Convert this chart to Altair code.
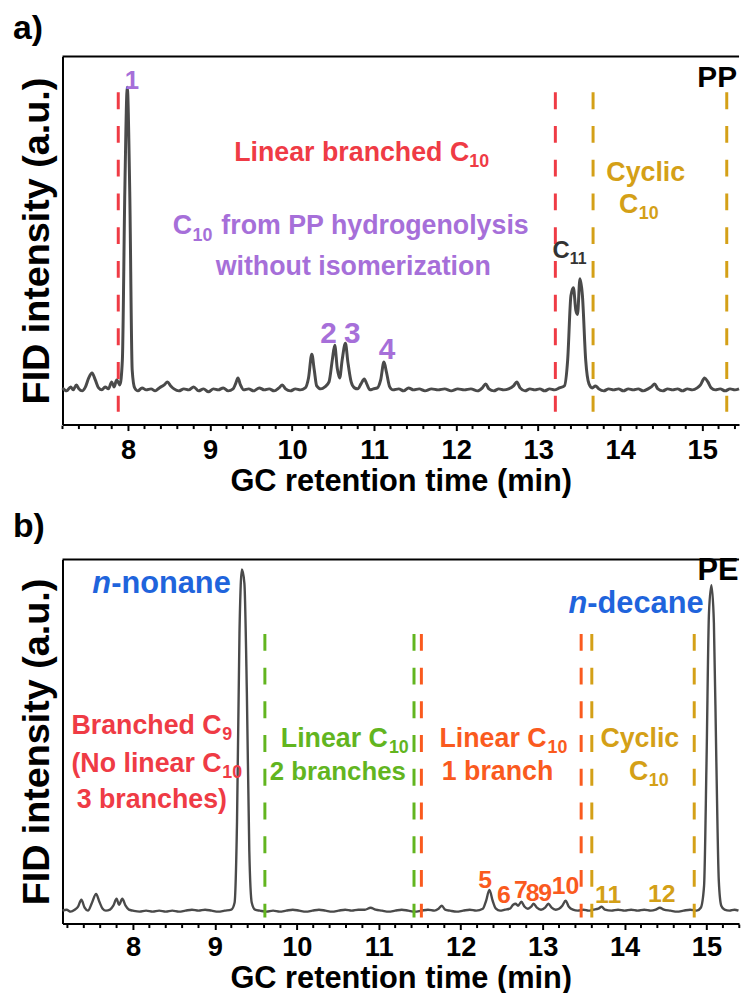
import altair as alt
import pandas as pd

FONT = "Liberation Sans, Arial, sans-serif"

# ---------------- data: panel a (PP) ----------------
a_time = [7.20, 7.25, 7.30, 7.33, 7.37, 7.40, 7.44, 7.48, 7.52, 7.56, 7.60, 7.64, 7.68, 7.72, 7.76, 7.80,
          7.83, 7.86, 7.90, 7.93, 7.96, 7.99, 8.02, 8.05, 8.08, 8.12, 8.17, 8.22, 8.28, 8.33, 8.38, 8.44,
          8.48, 8.52, 8.56, 8.62, 8.68, 8.74, 8.80, 8.86, 8.92, 8.98, 9.04, 9.10, 9.16, 9.22, 9.28, 9.31,
          9.34, 9.37, 9.41, 9.47, 9.53, 9.60, 9.66, 9.72, 9.78, 9.84, 9.88, 9.92, 9.98, 10.04, 10.10, 10.16,
          10.20, 10.24, 10.27, 10.30, 10.35, 10.40, 10.45, 10.49, 10.52, 10.55, 10.58, 10.61, 10.65, 10.68,
          10.72, 10.76, 10.80, 10.84, 10.88, 10.91, 10.95, 10.99, 11.04, 11.08, 11.12, 11.15, 11.19, 11.23,
          11.30, 11.36, 11.42, 11.48, 11.55, 11.62, 11.70, 11.78, 11.86, 11.94, 12.02, 12.10, 12.18, 12.26,
          12.32, 12.36, 12.40, 12.46, 12.52, 12.58, 12.64, 12.70, 12.74, 12.78, 12.84, 12.90, 12.96, 13.02,
          13.08, 13.14, 13.20, 13.26, 13.32, 13.36, 13.40, 13.43, 13.46, 13.48, 13.51, 13.54, 13.58, 13.62,
          13.66, 13.70, 13.74, 13.80, 13.86, 13.92, 13.98, 14.04, 14.10, 14.16, 14.22, 14.28, 14.34, 14.38,
          14.42, 14.46, 14.52, 14.58, 14.64, 14.70, 14.76, 14.82, 14.88, 14.94, 14.98, 15.03, 15.07, 15.11,
          15.16, 15.22, 15.28, 15.34, 15.40, 15.45]
a_signal = [2, -1, 3, 0, 5, 1, -1, 3, 12, 17, 10, 2, 0, 3, 1, 8,
            3, 10, 5, 30, 200, 305, 200, 20, 2, -1, 2, 0, 1, -1, 2, 5,
            8, 4, 1, -1, 1, 0, 3, -1, 1, -2, 1, 0, 2, -1, 1, 6,
            12, 5, 0, 1, -1, 2, 0, 1, -1, 2, 5, 1, -1, 1, 0, 2,
            12, 36, 20, 4, 1, 3, 8, 30, 45, 22, 12, 30, 47, 28,
            8, 2, 1, 6, 11, 6, 0, 1, 2, 10, 28, 18, 3, 0,
            1, -1, 2, 0, 1, -1, 1, 0, 1, -1, 1, 0, 1, -1,
            2, 6, 1, -1, 1, 0, 1, 4, 8, 2, -1, 1, 0, 1,
            -1, 1, 0, 2, 4, 30, 95, 103, 80, 76, 112, 95, 30, 6,
            2, 4, 1, -1, 1, 0, 1, -1, 1, 0, 1, -1, 1, 3,
            6, 1, -1, 1, 0, 1, -1, 1, 0, 2, 5, 12, 8, 2,
            0, 1, -1, 1, 0, 1]

# ---------------- data: panel b (PE) ----------------
b_time = [7.14, 7.19, 7.24, 7.29, 7.33, 7.37, 7.41, 7.45, 7.50, 7.55, 7.59, 7.63, 7.67, 7.72, 7.76, 7.80,
          7.83, 7.87, 7.91, 7.95, 8.00, 8.08, 8.16, 8.24, 8.32, 8.40, 8.48, 8.56, 8.64, 8.72, 8.80, 8.88,
          8.96, 9.04, 9.12, 9.20, 9.24, 9.27, 9.30, 9.33, 9.36, 9.39, 9.42, 9.45, 9.49, 9.55, 9.63, 9.71,
          9.79, 9.87, 9.95, 10.03, 10.11, 10.19, 10.27, 10.35, 10.43, 10.51, 10.59, 10.67, 10.75, 10.83,
          10.90, 10.96, 11.04, 11.12, 11.20, 11.28, 11.36, 11.44, 11.52, 11.60, 11.68, 11.73, 11.77, 11.81,
          11.87, 11.95, 12.03, 12.11, 12.19, 12.27, 12.31, 12.35, 12.39, 12.43, 12.48, 12.54, 12.60, 12.64,
          12.67, 12.70, 12.74, 12.78, 12.82, 12.86, 12.89, 12.93, 12.98, 13.03, 13.07, 13.11, 13.16, 13.20,
          13.24, 13.28, 13.32, 13.37, 13.43, 13.50, 13.56, 13.62, 13.68, 13.72, 13.76, 13.84, 13.92, 14.00,
          14.08, 14.16, 14.24, 14.32, 14.38, 14.43, 14.48, 14.56, 14.64, 14.72, 14.80, 14.88, 14.93, 14.97,
          15.00, 15.03, 15.06, 15.09, 15.12, 15.15, 15.18, 15.22, 15.28, 15.34, 15.39]
b_signal = [0, 1, -1, 1, 4, 11, 3, 0, 8, 17, 9, 2, 0, 1, 5, 12,
            6, 12, 5, 1, 0, -1, 0, -1, 0, -1, 0, -1, 0, 1, 0, 1,
            0, -1, 0, 1, 8, 90, 280, 344, 330, 220, 60, 8, 1, 0, -1, 0,
            -1, 0, 1, 0, -1, 0, 1, 0, -1, 0, 1, 0, 1, 1,
            3, 1, 0, -1, 0, 1, 0, -1, 0, 1, 0, 2, 5, 1,
            0, -1, 0, 1, 0, 2, 10, 21, 10, 2, 0, 1, 2, 6,
            7, 5, 9, 4, 2, 4, 7, 3, 1, 3, 7, 3, 1, 2,
            5, 10, 4, 1, 0, 1, 0, 1, 2, 4, 1, 0, 1, 0,
            1, 0, 1, 0, 1, 3, 1, 0, -1, 0, 1, 0, 3, 25,
            150, 300, 328, 290, 150, 30, 5, 1, 0, 1, 0]

major_ticks = [8, 9, 10, 11, 12, 13, 14, 15]
minor_ticks = [7.2, 7.4, 7.6, 7.8, 8.2, 8.4, 8.6, 8.8, 9.2, 9.4, 9.6, 9.8, 10.2, 10.4, 10.6, 10.8,
               11.2, 11.4, 11.6, 11.8, 12.2, 12.4, 12.6, 12.8, 13.2, 13.4, 13.6, 13.8, 14.2, 14.4,
               14.6, 14.8, 15.2, 15.4]

a_bounds = [7.88, 13.21, 13.67, 15.30]
b_bounds = [9.61, 11.43, 11.52, 13.47, 13.60, 14.85]

RED = "#EF3B45"
PURPLE = "#A66FD9"
GOLD = "#D4A017"
GREEN = "#62B51F"
ORANGE = "#FA5A1E"
BLUE = "#1F64DC"
TRACE = "#4A4A4A"

a_bound_colors = [RED, RED, GOLD, GOLD]
b_bound_colors = [GREEN, GREEN, ORANGE, ORANGE, GOLD, GOLD]

W = 682
HA = 371
HB = 367
A_XDOM = [7.20, 15.45]
B_XDOM = [7.14, 15.397]
A_YDOM = [-35, 336]
B_YDOM = [-13, 354]


def panel(times, signal, xdom, ydom, height, bounds, bcolors, rule_top, rule_bot,
          annotations, letter, letter_y, label_pad, title_y, line_w):
    xs = alt.Scale(domain=xdom, nice=False, zero=False)
    ys = alt.Scale(domain=ydom, nice=False, zero=False)
    xaxis = alt.Axis(values=major_ticks, format="d", title="GC retention time (min)", grid=False,
                     tickSize=6, tickWidth=2, tickColor="black", domainColor="black", domainWidth=2,
                     labelFontSize=27.5, labelFont=FONT, labelFontWeight="bold", labelColor="black",
                     labelPadding=label_pad, labelBaseline="alphabetic", labelFlush=False,
                     titleFont=FONT, titleFontSize=31, titleFontWeight="bold", titleColor="black",
                     titleBaseline="alphabetic", titleY=title_y, titleX=W / 2)
    yaxis = alt.Axis(title="FID intensity (a.u.)", labels=False, ticks=False, grid=False,
                     domainColor="black", domainWidth=2, titleFont=FONT, titleFontSize=38,
                     titleFontWeight="bold", titleColor="black", titleAngle=270,
                     titleBaseline="alphabetic", titleAlign="center", titleX=-14, titleY=height / 2)

    trace = alt.Chart(pd.DataFrame({"t": times, "h": signal})).mark_line(
        color=TRACE, strokeWidth=line_w, interpolate="monotone").encode(
        x=alt.X("t:Q", scale=xs, axis=xaxis), y=alt.Y("h:Q", scale=ys, axis=yaxis), order="t:Q")

    rules_df = pd.DataFrame({"t": bounds, "c": bcolors, "h": [rule_top] * len(bounds),
                             "bot": [rule_bot] * len(bounds)})
    rules = alt.Chart(rules_df).mark_rule(strokeWidth=3, strokeDash=[17, 17]).encode(
        x=alt.X("t:Q", scale=xs), y=alt.Y("h:Q", scale=ys), y2="bot:Q",
        color=alt.Color("c:N", scale=None))

    minor = alt.Chart(pd.DataFrame({"t": minor_ticks})).mark_rule(color="black", strokeWidth=2).encode(
        x=alt.X("t:Q", scale=xs), y=alt.value(height + 1), y2=alt.value(height + 4.5))

    top = alt.Chart(pd.DataFrame({"k": [0]})).mark_rule(color="black", strokeWidth=2).encode(
        x=alt.value(0), x2=alt.value(W), y=alt.value(0))

    layers = [trace, rules, minor, top]
    for (t, h, s, size, color, align, dx, dy, italic) in annotations:
        df = pd.DataFrame({"t": [t], "h": [h], "s": [s]})
        layers.append(alt.Chart(df).mark_text(
            align=align, baseline="alphabetic", font=FONT, fontSize=size, fontWeight="bold",
            fontStyle="italic" if italic else "normal", color=color, dx=dx, dy=dy).encode(
            x=alt.X("t:Q", scale=xs), y=alt.Y("h:Q", scale=ys), text="s:N"))

    lab = alt.Chart(pd.DataFrame({"s": [letter]})).mark_text(
        align="left", baseline="alphabetic", font=FONT, fontSize=34, fontWeight="bold",
        color="black").encode(x=alt.value(-50), y=alt.value(letter_y), text="s:N")
    layers.append(lab)
    return alt.layer(*layers).properties(width=W, height=height)


# annotation: (time, level, text, size, color, align, dx, dy, italic)
a_ann = [
    (8.048, 303, "1", 26, PURPLE, "center", 0, 0, False),
    (10.443, 47, "2", 30, PURPLE, "center", 0, 0, False),
    (10.733, 47, "3", 30, PURPLE, "center", 0, 0, False),
    (11.156, 31, "4", 30, PURPLE, "center", 0, 0, False),
    (13.175, 133, "C", 24, "#333333", "left", 0, 0, False),
    (13.175, 133, "11", 16, "#333333", "left", 17.5, 6, False),
    (9.294, 231, "Linear branched C", 27, RED, "left", 0, 0, False),
    (9.294, 231, "10", 18, RED, "left", 237, 6, False),
    (8.544, 157, "C", 27, PURPLE, "left", 0, 0, False),
    (8.544, 157, "10", 18, PURPLE, "left", 20, 7, False),
    (8.544, 157, "from PP hydrogenolysis", 27, PURPLE, "left", 49, 0, False),
    (10.745, 116, "without isomerization", 27, PURPLE, "center", 0, 0, False),
    (14.312, 211, "Cyclic", 27, GOLD, "center", 0, 0, False),
    (13.985, 178, "C", 27, GOLD, "left", 0, 0, False),
    (13.985, 178, "10", 18, GOLD, "left", 20, 6, False),
    (14.941, 305, "PP", 30, "black", "left", 0, 0, False),
]

b_ann = [
    (7.504, 320, "n", 31, BLUE, "left", 0, 0, True),
    (7.504, 320, "-nonane", 31, BLUE, "left", 19, 0, False),
    (13.315, 300, "n", 31, BLUE, "left", 0, 0, True),
    (13.315, 300, "-decane", 31, BLUE, "left", 19, 0, False),
    (14.889, 333, "PE", 31, "black", "left", 0, 0, False),
    (7.249, 178, "Branched C", 27, RED, "left", 0, 0, False),
    (7.249, 178, "9", 18, RED, "left", 152, 6, False),
    (7.249, 140, "(No linear C", 27, RED, "left", 0, 0, False),
    (7.249, 140, "10", 18, RED, "left", 152, 6, False),
    (8.230, 104, "3 branches)", 27, RED, "center", 0, 0, False),
    (9.804, 165, "Linear C", 27, GREEN, "left", 0, 0, False),
    (9.804, 165, "10", 18, GREEN, "left", 109, 6, False),
    (10.500, 132, "2 branches", 26, GREEN, "center", 0, 0, False),
    (11.741, 165, "Linear C", 27, ORANGE, "left", 0, 0, False),
    (11.741, 165, "10", 18, ORANGE, "left", 109, 6, False),
    (12.449, 132, "1 branch", 27, ORANGE, "center", 0, 0, False),
    (14.186, 165, "Cyclic", 27, GOLD, "center", 0, 0, False),
    (14.053, 132, "C", 27, GOLD, "left", 0, 0, False),
    (14.053, 132, "10", 18, GOLD, "left", 20, 6, False),
    (12.298, 23, "5", 25, ORANGE, "center", 0, 0, False),
    (12.528, 8, "6", 25, ORANGE, "center", 0, 0, False),
    (12.734, 13, "7", 25, ORANGE, "center", 0, 0, False),
    (12.879, 10, "8", 25, ORANGE, "center", 0, 0, False),
    (13.030, 10, "9", 25, ORANGE, "center", 0, 0, False),
    (13.278, 17, "10", 25, ORANGE, "center", 0, 0, False),
    (13.799, 8, "11", 25, GOLD, "center", 0, 0, False),
    (14.453, 9, "12", 25, GOLD, "center", 0, 0, False),
]

pa = panel(a_time, a_signal, A_XDOM, A_YDOM, HA, a_bounds, a_bound_colors, 300, -22,
           a_ann, "a)", -18, 28, 66, 3.0)
pb = panel(b_time, b_signal, B_XDOM, B_YDOM, HB, b_bounds, b_bound_colors, 279, -7,
           b_ann, "b)", -23, 26, 64, 2.4)

chart = alt.vconcat(pa, pb, spacing=14).properties(
    padding={"left": 13, "top": 8, "right": 0, "bottom": 0},
    background="white",
).configure_view(stroke=None)

chart.save("out.html", embed_options={"renderer": "svg", "actions": False})
